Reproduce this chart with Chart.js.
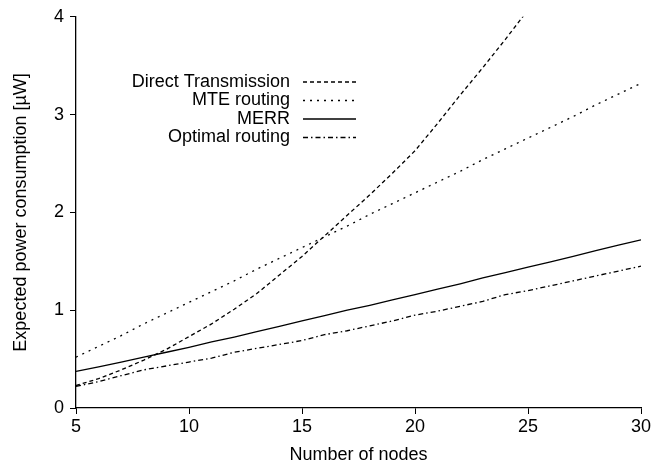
<!DOCTYPE html>
<html>
<head>
<meta charset="utf-8">
<script src="https://cdn.jsdelivr.net/npm/chart.js@4"></script>
<style>
  html, body { margin: 0; padding: 0; background: #fff; }
  #wrap { width: 655px; height: 468px; }
</style>
</head>
<body>
<div id="wrap"><canvas id="chart" width="655" height="468"></canvas></div>
<script>
const nodes = [5, 6, 7, 8, 9, 10, 11, 12, 13, 14, 15, 16, 17, 18, 19, 20, 21, 22, 23, 24, 25, 26, 27, 28, 29, 30];

const directTx = [0.23, 0.30, 0.39, 0.49, 0.60, 0.73, 0.86, 1.01, 1.17, 1.36, 1.55, 1.76, 1.97, 2.18, 2.40, 2.63, 2.91, 3.20, 3.48, 3.77, 4.07, null, null, null, null, null];
const mteRouting = [0.52, 0.63, 0.74, 0.86, 0.97, 1.08, 1.19, 1.30, 1.42, 1.53, 1.64, 1.75, 1.86, 1.98, 2.09, 2.20, 2.31, 2.42, 2.54, 2.65, 2.76, 2.87, 2.98, 3.10, 3.21, 3.32];
const merr = [0.375, 0.42, 0.47, 0.52, 0.57, 0.62, 0.675, 0.725, 0.78, 0.835, 0.89, 0.945, 1.0, 1.05, 1.105, 1.16, 1.215, 1.27, 1.33, 1.385, 1.44, 1.495, 1.55, 1.61, 1.665, 1.72];
const optimal = [0.22, 0.27, 0.33, 0.39, 0.43, 0.47, 0.51, 0.57, 0.61, 0.65, 0.69, 0.75, 0.79, 0.84, 0.89, 0.95, 0.99, 1.04, 1.09, 1.16, 1.20, 1.25, 1.30, 1.35, 1.40, 1.45];

const seriesLabels = ['Direct Transmission', 'MTE routing', 'MERR', 'Optimal routing'];
const xTicks = [5, 10, 15, 20, 25, 30];
const yTicks = [0, 1, 2, 3, 4];

const FONT = 'Liberation Sans, Arial, Helvetica, sans-serif';
const FSIZE = 18;

function pts(values) {
  return nodes.map((n, i) => ({ x: n, y: values[i] }));
}

// legend drawn like the original: text right aligned, line sample on the right
const sideLegend = {
  id: 'sideLegend',
  afterDatasetsDraw(chart) {
    const ctx = chart.ctx;
    ctx.save();
    ctx.font = FSIZE + 'px ' + FONT;
    ctx.textAlign = 'right';
    ctx.textBaseline = 'middle';
    chart.data.datasets.forEach((ds, i) => {
      const y = 82 + i * 18.5;
      ctx.fillStyle = '#000';
      ctx.fillText(ds.label, 290, y);
      ctx.beginPath();
      ctx.setLineDash(ds.borderDash || []);
      ctx.lineWidth = ds.borderWidth;
      ctx.strokeStyle = ds.borderColor;
      ctx.moveTo(303, y);
      ctx.lineTo(356, y);
      ctx.stroke();
    });
    ctx.restore();
  }
};

const ctx = document.getElementById('chart').getContext('2d');
new Chart(ctx, {
  type: 'line',
  data: {
    datasets: [
      { label: seriesLabels[0], data: pts(directTx), borderDash: [4, 3] },
      { label: seriesLabels[1], data: pts(mteRouting), borderDash: [2, 5] },
      { label: seriesLabels[2], data: pts(merr), borderDash: [] },
      { label: seriesLabels[3], data: pts(optimal), borderDash: [5, 3, 1.5, 3] },
    ].map(d => ({
      ...d,
      borderColor: '#000',
      backgroundColor: '#000',
      borderWidth: 1.3,
      pointRadius: 0,
      tension: 0,
      fill: false,
      spanGaps: false,
    })),
  },
  options: {
    responsive: false,
    animation: false,
    devicePixelRatio: 1,
    layout: { padding: { top: 16, right: 14, left: 0, bottom: 0 } },
    plugins: {
      legend: { display: false },
      tooltip: { enabled: false },
    },
    scales: {
      x: {
        type: 'linear',
        min: 5,
        max: 30,
        afterFit(scale) { scale.height = 60; },
        afterBuildTicks(scale) { scale.ticks = xTicks.map(v => ({ value: v })); },
        grid: { drawOnChartArea: false, drawTicks: true, tickLength: 6, color: '#000' },
        border: { display: true, color: '#000', width: 1.3 },
        ticks: { color: '#000', padding: 2, font: { family: FONT, size: FSIZE } },
        title: {
          display: true,
          text: 'Number of nodes',
          color: '#000',
          font: { family: FONT, size: FSIZE },
          padding: { top: 0, bottom: 2 },
        },
      },
      y: {
        type: 'linear',
        min: 0,
        max: 4,
        afterFit(scale) { scale.width = 76; },
        afterBuildTicks(scale) { scale.ticks = yTicks.map(v => ({ value: v })); },
        grid: { drawOnChartArea: false, drawTicks: true, tickLength: 6, color: '#000' },
        border: { display: true, color: '#000', width: 1.3 },
        ticks: { color: '#000', padding: 6, font: { family: FONT, size: FSIZE } },
        title: {
          display: true,
          text: 'Expected power consumption [µW]',
          color: '#000',
          font: { family: FONT, size: FSIZE },
          padding: { top: 10, bottom: 0 },
        },
      },
    },
  },
  plugins: [sideLegend],
});
</script>
</body>
</html>
